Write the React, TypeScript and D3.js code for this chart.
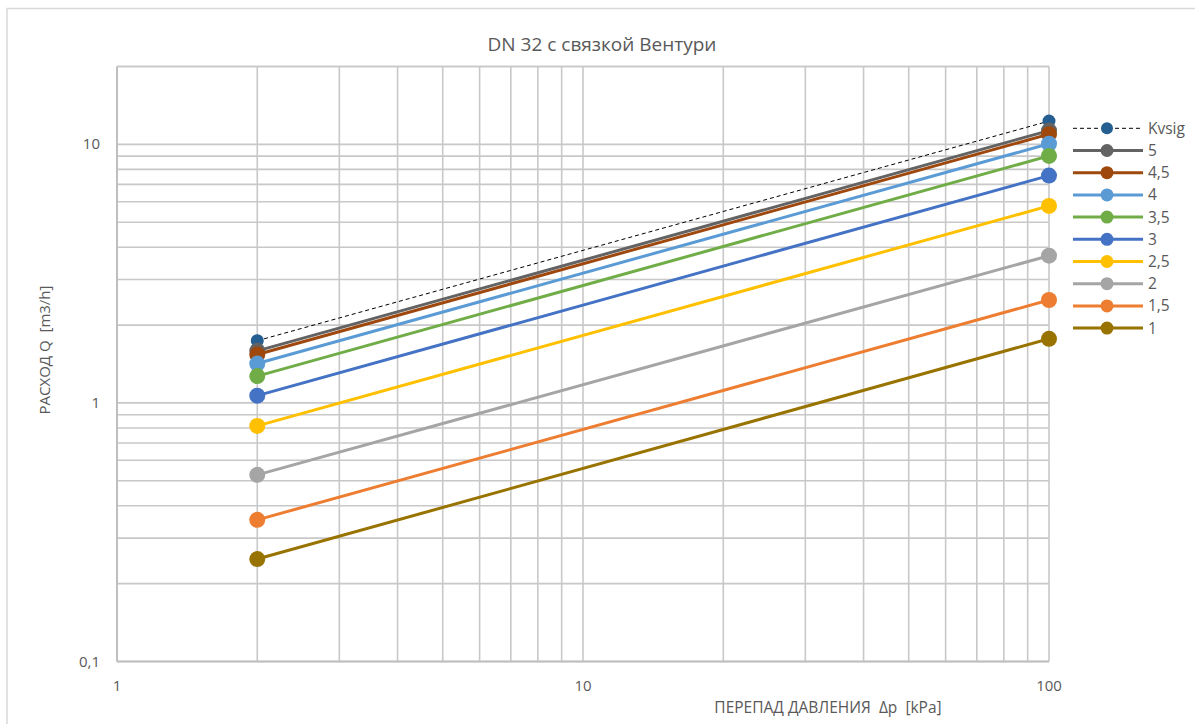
import React from "react";
import * as d3 from "d3";

const seriesNames = ["Kvsig", "5", "4,5", "4", "3,5", "3", "2,5", "2", "1,5", "1"];
const seriesColors = ["#255e91", "#636363", "#9e480e", "#5b9bd5", "#70ad47", "#4472c4", "#ffc000", "#a5a5a5", "#ed7d31", "#997300"];
const pressurePoints = [2, 100];
const flowAt2 = [1.74, 1.59, 1.54, 1.42, 1.27, 1.067, 0.815, 0.527, 0.353, 0.249];
const flowAt100 = [12.3, 11.3, 10.95, 10.05, 9.02, 7.57, 5.78, 3.71, 2.5, 1.77];
const xTickLabels = ["1", "10", "100"];
const yTickLabels = ["0,1", "1", "10"];
const xTickValues = [1, 10, 100];
const yTickValues = [0.1, 1, 10];

const W = 1195;
const H = 724;
const left = 117, right = 1049, top = 66.5, bottom = 661.5;

export default function App() {
  const x = d3.scaleLog().domain([1, 100]).range([left, right]);
  const y = d3.scaleLog().domain([0.1, 20]).range([bottom, top]);

  const xGrid: number[] = [];
  for (const dec of [1, 10]) for (let k = 1; k <= 9; k++) xGrid.push(dec * k);
  xGrid.push(100);
  const yGrid: number[] = [];
  for (const dec of [0.1, 1, 10]) for (let k = 1; k <= 9; k++) { const v = dec * k; if (v <= 20) yGrid.push(v); }
  yGrid.push(20);

  const line = d3.line<[number, number]>().x(d => x(d[0])).y(d => y(d[1]));
  const font = "'Open Sans', 'Liberation Sans', sans-serif";
  const textColor = "#595959";

  const legendX0 = 1073, legendX1 = 1143, legendDot = 1107, legendY0 = 128.3, legendStep = 22.2;

  return (
    <svg width={W} height={H} style={{ position: "absolute", left: 0, top: 0, fontFamily: font }}>
      <rect x={0} y={0} width={W} height={H} fill="#fff" />
      <rect x={7} y={8.5} width={W + 20} height={H + 20} fill="#fff" stroke="#d9d9d9" strokeWidth={1.5} />
      <text x={602} y={51} textAnchor="middle" fontSize={19} fill={textColor}>DN 32 с связкой Вентури</text>
      {yGrid.map((v, i) => (
        <line key={"yg" + i} x1={left} x2={right} y1={y(v)} y2={y(v)} stroke="#c8c8c8" strokeWidth={1.6} />
      ))}
      {xGrid.map((v, i) => (
        <line key={"xg" + i} x1={x(v)} x2={x(v)} y1={top} y2={bottom} stroke="#c8c8c8" strokeWidth={1.6} />
      ))}
      <line x1={left} x2={left} y1={top} y2={bottom} stroke="#bfbfbf" strokeWidth={2} />
      <line x1={left} x2={right} y1={bottom} y2={bottom} stroke="#bfbfbf" strokeWidth={2} />
      {xTickValues.map((v, i) => (
        <text key={"xt" + i} x={x(v)} y={691} textAnchor="middle" fontSize={15} fill={textColor}>{xTickLabels[i]}</text>
      ))}
      {yTickValues.map((v, i) => (
        <text key={"yt" + i} x={100} y={y(v) + 5} textAnchor="end" fontSize={15} fill={textColor}>{yTickLabels[i]}</text>
      ))}
      <text x={828} y={713} textAnchor="middle" fontSize={15.5} fill={textColor}>{"ПЕРЕПАД ДАВЛЕНИЯ\u00A0\u00A0Δp\u00A0\u00A0[kPa]"}</text>
      <text transform={`translate(50,350) rotate(-90)`} textAnchor="middle" fontSize={15} fill={textColor}>{"РАСХОД Q\u00A0\u00A0[m3/h]"}</text>
      {seriesNames.map((name, i) => {
        const pts: [number, number][] = [[pressurePoints[0], flowAt2[i]], [pressurePoints[1], flowAt100[i]]];
        const dashed = i === 0;
        return (
          <g key={"s" + i}>
            <path d={line(pts) || ""} fill="none" stroke={dashed ? "#000" : seriesColors[i]}
              strokeWidth={dashed ? 1 : 3} strokeDasharray={dashed ? "4,3" : undefined} />
            {pts.map((p, j) => (
              <circle key={j} cx={x(p[0])} cy={y(p[1])} r={dashed ? 6.5 : 8} fill={seriesColors[i]} />
            ))}
          </g>
        );
      })}
      {seriesNames.map((name, i) => {
        const ly = legendY0 + i * legendStep;
        const dashed = i === 0;
        return (
          <g key={"l" + i}>
            <line x1={legendX0} x2={legendX1} y1={ly} y2={ly} stroke={dashed ? "#000" : seriesColors[i]}
              strokeWidth={dashed ? 1 : 3} strokeDasharray={dashed ? "4,3" : undefined} />
            <circle cx={legendDot} cy={ly} r={dashed ? 6 : 6.5} fill={seriesColors[i]} />
            <text x={1148} y={ly + 5.5} fontSize={15.5} fill={textColor}>{name}</text>
          </g>
        );
      })}
    </svg>
  );
}
